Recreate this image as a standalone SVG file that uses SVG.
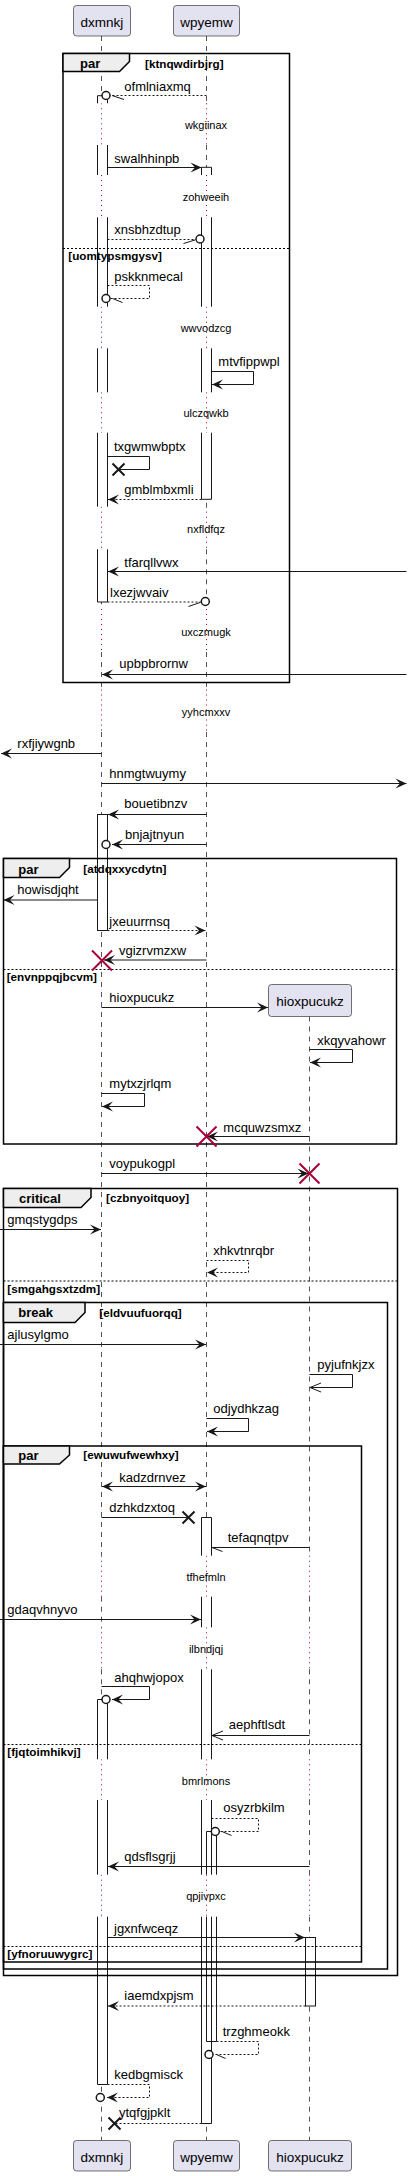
<svg xmlns="http://www.w3.org/2000/svg" width="412" height="2176" viewBox="0 0 412 2176">
<style>
.t{font-family:"Liberation Sans",Arial,sans-serif;font-size:13px;fill:#000}
.d{font-family:"Liberation Sans",Arial,sans-serif;font-size:11px;fill:#000;text-anchor:middle}
.pn{font-family:"Liberation Sans",Arial,sans-serif;font-size:13.5px;fill:#000;text-anchor:middle}
.fl{font-family:"Liberation Sans",Arial,sans-serif;font-size:13px;font-weight:bold;fill:#000}
.g{font-family:"Liberation Sans",Arial,sans-serif;font-size:11.7px;font-weight:bold;fill:#000}
.pb{fill:#E2E2F0;stroke:#181818;stroke-width:0.6}
.ll{fill:none;stroke:#555;stroke-width:1;stroke-dasharray:5,5}
.dl{fill:none;stroke:#A80036;stroke-width:1;stroke-dasharray:1,4}
.fr{fill:none;stroke:#000;stroke-width:1.5}
.tab{fill:#EEEEEE;stroke:#000;stroke-width:1.5}
.sep{fill:none;stroke:#000;stroke-width:1;stroke-dasharray:2,2}
.af{fill:#fff}
.ae{fill:none;stroke:#181818;stroke-width:1}
.m{fill:none;stroke:#181818;stroke-width:1}
.ds{stroke-dasharray:2,2}
.f{marker-end:url(#f)}
.o{marker-end:url(#o)}
.c{fill:#fff;stroke:#181818;stroke-width:1.5}
.x{stroke:#181818;stroke-width:2;fill:none}
.rx{stroke:#A80036;stroke-width:2;fill:none}
</style>
<defs>
<marker id="f" markerUnits="userSpaceOnUse" markerWidth="14" markerHeight="12" viewBox="-12 -6 14 12" refX="0" refY="0" orient="auto-start-reverse"><path d="M0,0 L-11,-5 L-6.5,0 L-11,5 Z" fill="#181818"/></marker>
<marker id="o" markerUnits="userSpaceOnUse" markerWidth="14" markerHeight="12" viewBox="-12 -6 14 12" refX="0" refY="0" orient="auto"><path d="M-11,-4.5 L0,0 L-11,4.5" fill="none" stroke="#181818" stroke-width="1" stroke-dasharray="none"/></marker>
</defs>
<rect width="412" height="2176" fill="#fff"/>

<g id="lifelines">
<path class="ll" d="M101.5,36V103.3M101.5,145V175M101.5,217.3V306.7M101.5,348.3V392.3M101.5,432.7V506.7M101.5,549.3V609M101.5,652V689.5M101.5,732V1555.7M101.5,1596.7V1627.3M101.5,1669.3V1759.3M101.5,1800V1874.7M101.5,1916.7V2140.5"/>
<path class="dl" d="M101.5,103.3V145M101.5,175V217.3M101.5,306.7V348.3M101.5,392.3V432.7M101.5,506.7V549.3M101.5,609V652M101.5,689.5V732M101.5,1555.7V1596.7M101.5,1627.3V1669.3M101.5,1759.3V1800M101.5,1874.7V1916.7"/>
<path class="ll" d="M206.5,36V103.3M206.5,145V175M206.5,217.3V306.7M206.5,348.3V392.3M206.5,432.7V506.7M206.5,549.3V609M206.5,652V689.5M206.5,732V1555.7M206.5,1596.7V1627.3M206.5,1669.3V1759.3M206.5,1800V1874.7M206.5,1916.7V2140.5"/>
<path class="dl" d="M206.5,103.3V145M206.5,175V217.3M206.5,306.7V348.3M206.5,392.3V432.7M206.5,506.7V549.3M206.5,609V652M206.5,689.5V732M206.5,1555.7V1596.7M206.5,1627.3V1669.3M206.5,1759.3V1800M206.5,1874.7V1916.7"/>
<path class="ll" d="M309.5,1016.5V1555.7M309.5,1596.7V1627.3M309.5,1669.3V1759.3M309.5,1800V1874.7M309.5,1916.7V2140.5"/>
<path class="dl" d="M309.5,1555.7V1596.7M309.5,1627.3V1669.3M309.5,1759.3V1800M309.5,1874.7V1916.7"/>
</g>

<g id="participants">
<g id="p-dxmnkj">
<rect class="pb" x="73.5" y="5.5" width="57" height="30.5" rx="3"/>
<text class="pn" x="102" y="26.5">dxmnkj</text>
<rect class="pb" x="73.5" y="2140.5" width="57" height="30.5" rx="3"/>
<text class="pn" x="102" y="2161.5">dxmnkj</text>
</g>
<g id="p-wpyemw">
<rect class="pb" x="173.5" y="5.5" width="66" height="30.5" rx="3"/>
<text class="pn" x="206.5" y="26.5">wpyemw</text>
<rect class="pb" x="173.5" y="2140.5" width="66" height="30.5" rx="3"/>
<text class="pn" x="206.5" y="2161.5">wpyemw</text>
</g>
<g id="p-hioxpucukz">
<rect class="pb" x="268.5" y="984.5" width="83" height="32" rx="3"/>
<text class="pn" x="310" y="1005.5">hioxpucukz</text>
<rect class="pb" x="268.5" y="2140.5" width="83" height="30.5" rx="3"/>
<text class="pn" x="310" y="2161.5">hioxpucukz</text>
</g>
</g>

<g id="activations">
<rect class="af" x="97.5" y="95.7" width="10" height="7.6"/>
<rect class="af" x="97.5" y="145" width="10" height="30"/>
<rect class="af" x="97.5" y="217.3" width="10" height="89.4"/>
<rect class="af" x="97.5" y="348.3" width="10" height="44"/>
<rect class="af" x="97.5" y="432.7" width="10" height="74"/>
<rect class="af" x="97.5" y="549.3" width="10" height="52.7"/>
<rect class="af" x="201.5" y="167.3" width="10" height="7.7"/>
<rect class="af" x="201.5" y="217.3" width="10" height="89.4"/>
<rect class="af" x="201.5" y="348.3" width="10" height="44"/>
<rect class="af" x="201.5" y="432.7" width="10" height="66.6"/>
<rect class="af" x="97.5" y="814.5" width="10" height="116"/>
<rect class="af" x="201.5" y="1517.5" width="10" height="38.2"/>
<rect class="af" x="201.5" y="1596.7" width="10" height="30.6"/>
<rect class="af" x="201.5" y="1669.3" width="10" height="90"/>
<rect class="af" x="201.5" y="1800" width="10" height="74.7"/>
<rect class="af" x="201.5" y="1916.7" width="10" height="206.8"/>
<rect class="af" x="206.5" y="1831.5" width="10" height="43.2"/>
<rect class="af" x="206.5" y="1916.7" width="10" height="124.8"/>
<rect class="af" x="97.5" y="1699.5" width="10" height="59.8"/>
<rect class="af" x="97.5" y="1800" width="10" height="74.7"/>
<rect class="af" x="97.5" y="1916.7" width="10" height="167.8"/>
<rect class="af" x="305.5" y="1937.5" width="10" height="68.5"/>
<path class="ae" d="M97.5,95.7H107.5M97.5,95.7V103.3M107.5,95.7V103.3M97.5,145V175M107.5,145V175M97.5,217.3V306.7M107.5,217.3V306.7M97.5,348.3V392.3M107.5,348.3V392.3M97.5,432.7V506.7M107.5,432.7V506.7M97.5,549.3V602H107.5V549.3"/>
<path class="ae" d="M201.5,167.3H211.5M201.5,167.3V175M211.5,167.3V175M201.5,217.3V306.7M211.5,217.3V306.7M201.5,348.3V392.3M211.5,348.3V392.3M201.5,432.7V499.3H211.5V432.7"/>
<rect class="ae" x="97.5" y="814.5" width="10" height="116"/>
<path class="ae" d="M201.5,1517.5H211.5M201.5,1517.5V1555.7M211.5,1517.5V1555.7M201.5,1596.7V1627.3M211.5,1596.7V1627.3M201.5,1669.3V1759.3M211.5,1669.3V1759.3M201.5,1800V1874.7M211.5,1800V1874.7M201.5,1916.7V2123.5H211.5V1916.7"/>
<path class="ae" d="M206.5,1831.5H216.5M206.5,1831.5V1874.7M216.5,1831.5V1874.7M206.5,1916.7V2041.5H216.5V1916.7"/>
<path class="ae" d="M97.5,1699.5H107.5M97.5,1699.5V1759.3M107.5,1699.5V1759.3M97.5,1800V1874.7M107.5,1800V1874.7M97.5,1916.7V2084.5H107.5V1916.7"/>
<rect class="ae" x="305.5" y="1937.5" width="10" height="68.5"/>
</g>

<g id="frames">
<g id="f-par1">
<rect class="fr" x="63" y="53.5" width="226.5" height="629"/>
<path class="tab" d="M63,53.5H129.5V61.5L119.5,71.5H63Z"/>
<text class="fl" x="80" y="68">par</text>
<text class="g" x="145" y="68">[ktnqwdirbjrg]</text>
<line class="sep" x1="63" y1="248.5" x2="289.5" y2="248.5"/>
<text class="g" x="68.3" y="260">[uomtypsmgysv]</text>
</g>
<g id="f-par2">
<rect class="fr" x="3.5" y="858.5" width="393" height="285.5"/>
<path class="tab" d="M3.5,858.5H69.5V867.5L59.5,877.5H3.5Z"/>
<text class="fl" x="18.3" y="874">par</text>
<text class="g" x="83.3" y="873.3">[atdqxxycdytn]</text>
<line class="sep" x1="3.5" y1="969.5" x2="396.5" y2="969.5"/>
<text class="g" x="6.7" y="980.7">[envnppqjbcvm]</text>
</g>
<g id="f-critical">
<rect class="fr" x="3.5" y="1188.5" width="394" height="787"/>
<path class="tab" d="M3.5,1188.5H91V1197.5L81,1207.5H3.5Z"/>
<text class="fl" x="19" y="1202.7">critical</text>
<text class="g" x="106" y="1201.7">[czbnyoitquoy]</text>
<line class="sep" x1="3.5" y1="1281" x2="397.5" y2="1281"/>
<text class="g" x="7.3" y="1292.7">[smgahgsxtzdm]</text>
</g>
<g id="f-break">
<rect class="fr" x="3.5" y="1302.5" width="384" height="666.5"/>
<path class="tab" d="M3.5,1302.5H85V1312.5L75,1322.5H3.5Z"/>
<text class="fl" x="18.3" y="1317.3">break</text>
<text class="g" x="99.3" y="1316.7">[eldvuufuorqq]</text>
</g>
<g id="f-par3">
<rect class="fr" x="3.5" y="1446" width="358" height="516"/>
<path class="tab" d="M3.5,1446H69.5V1455L59.5,1464H3.5Z"/>
<text class="fl" x="18.3" y="1460">par</text>
<text class="g" x="83.3" y="1459.3">[ewuwufwewhxy]</text>
<line class="sep" x1="3.5" y1="1744.5" x2="361.5" y2="1744.5"/>
<text class="g" x="7.3" y="1755.7">[fjqtoimhikvj]</text>
<line class="sep" x1="3.5" y1="1946.5" x2="361.5" y2="1946.5"/>
<text class="g" x="7.3" y="1957.7">[yfnoruuwygrc]</text>
</g>
</g>

<g id="connectors">
<line class="m ds" x1="206.5" y1="95.5" x2="110" y2="95.5"/>
<line class="m" x1="112" y1="95.5" x2="124" y2="99.5"/>
<circle class="c" cx="106" cy="95.5" r="4"/>
<line class="m f" x1="107.5" y1="167.5" x2="201.5" y2="167.5"/>
<line class="m ds" x1="107.5" y1="239.5" x2="196" y2="239.5"/>
<line class="m" x1="183.5" y1="243.5" x2="195" y2="240"/>
<circle class="c" cx="200" cy="239" r="4"/>
<path class="m ds" d="M107.5,285.5H149.5V298.5H110"/>
<line class="m" x1="112.5" y1="298.5" x2="122.5" y2="302.5"/>
<circle class="c" cx="106" cy="298.5" r="4"/>
<path class="m f" d="M211.5,371.5H253.5V384.5H212"/>
<path class="m" d="M107.5,456.5H149.5V469.5H118.5"/>
<path class="x" d="M112.5,463.5L124.5,475.5M124.5,463.5L112.5,475.5"/>
<line class="m ds f" x1="201.5" y1="499.5" x2="108" y2="499.5"/>
<line class="m f" x1="406.5" y1="571.5" x2="108" y2="571.5"/>
<line class="m ds" x1="107.5" y1="602" x2="201.3" y2="602"/>
<line class="m" x1="188.5" y1="606.5" x2="200" y2="602.5"/>
<circle class="c" cx="205.3" cy="601.5" r="4"/>
<line class="m f" x1="406.5" y1="674.5" x2="102" y2="674.5"/>
<line class="m f" x1="101.5" y1="753.5" x2="1" y2="753.5"/>
<line class="m f" x1="101.5" y1="783.5" x2="406.5" y2="783.5"/>
<line class="m f" x1="206.5" y1="814.5" x2="108" y2="814.5"/>
<line class="m f" x1="206.5" y1="844.5" x2="112" y2="844.5"/>
<circle class="c" cx="106" cy="844.5" r="4"/>
<line class="m f" x1="97.5" y1="900" x2="3.5" y2="900"/>
<line class="m ds f" x1="107.5" y1="930.5" x2="205.5" y2="930.5"/>
<line class="m f" x1="206.5" y1="960" x2="104" y2="960"/>
<path class="rx" d="M92,950.5L112,970.5M112,950.5L92,970.5"/>
<line class="m f" x1="101.5" y1="1007.5" x2="268" y2="1007.5"/>
<path class="m f" d="M309.5,1049.5H352.5V1062.5H310"/>
<path class="m f" d="M101.5,1093.5H144.5V1106.5H102"/>
<line class="m f" x1="309.5" y1="1136.5" x2="207" y2="1136.5"/>
<path class="rx" d="M196.5,1126.5L216.5,1146.5M216.5,1126.5L196.5,1146.5"/>
<line class="m f" x1="101.5" y1="1173.5" x2="308.5" y2="1173.5"/>
<path class="rx" d="M299.5,1163.5L319.5,1183.5M319.5,1163.5L299.5,1183.5"/>
<line class="m f" x1="0" y1="1229.5" x2="101" y2="1229.5"/>
<path class="m ds f" d="M206.5,1260.5H248.5V1272.5H207"/>
<line class="m f" x1="0" y1="1344.5" x2="206" y2="1344.5"/>
<path class="m o" d="M309.5,1374.5H352.5V1387.5H310"/>
<path class="m f" d="M206.5,1418.5H248.5V1431.5H207"/>
<line class="m" x1="102" y1="1486.5" x2="206" y2="1486.5" marker-start="url(#f)" marker-end="url(#f)"/>
<line class="m" x1="101.5" y1="1517.5" x2="188.5" y2="1517.5"/>
<path class="x" d="M182.5,1511.5L194.5,1523.5M194.5,1511.5L182.5,1523.5"/>
<line class="m" x1="309.5" y1="1547.5" x2="211.5" y2="1547.5"/>
<line class="m" x1="212" y1="1547.5" x2="222.5" y2="1551.5"/>
<line class="m f" x1="0" y1="1619.5" x2="201" y2="1619.5"/>
<path class="m f" d="M101.5,1686.5H149.5V1699.5H112"/>
<circle class="c" cx="106" cy="1699.5" r="4"/>
<line class="m o" x1="309.5" y1="1735.5" x2="212" y2="1735.5"/>
<path class="m ds" d="M211.5,1818.5H258.5V1831.5H219.3"/>
<line class="m" x1="222" y1="1831.5" x2="231.5" y2="1835.5"/>
<circle class="c" cx="215.3" cy="1831.5" r="4"/>
<line class="m f" x1="309.5" y1="1866.5" x2="108" y2="1866.5"/>
<line class="m f" x1="107.5" y1="1937.5" x2="305" y2="1937.5"/>
<line class="m ds f" x1="305.5" y1="2006" x2="108" y2="2006"/>
<path class="m ds" d="M216.5,2041.5H258.5V2054.5H213"/>
<line class="m" x1="216.5" y1="2054.5" x2="225.5" y2="2058.5"/>
<circle class="c" cx="209" cy="2054.5" r="4"/>
<path class="m ds f" d="M107.5,2084.5H149.5V2097.5H107"/>
<circle class="c" cx="100.3" cy="2097.5" r="4"/>
<line class="m ds" x1="201.5" y1="2123.5" x2="114.5" y2="2123.5"/>
<path class="x" d="M108.5,2117.5L120.5,2129.5M120.5,2117.5L108.5,2129.5"/>
</g>

<g id="labels">
<text class="t" x="124.3" y="91">ofmlniaxmq</text>
<text class="d" x="206" y="129">wkgiinax</text>
<text class="t" x="114.3" y="162.7">swalhhinpb</text>
<text class="d" x="206" y="200.5">zohweeih</text>
<text class="t" x="114.3" y="234.3">xnsbhzdtup</text>
<text class="t" x="114.3" y="280.7">pskknmecal</text>
<text class="d" x="206" y="332">wwvodzcg</text>
<text class="t" x="218.3" y="366">mtvfippwpl</text>
<text class="d" x="206" y="417">ulczqwkb</text>
<text class="t" x="114" y="450.7">txgwmwbptx</text>
<text class="t" x="124.3" y="494.3">gmblmbxmli</text>
<text class="d" x="206" y="533">nxfldfqz</text>
<text class="t" x="124.3" y="566.7">tfarqllvwx</text>
<text class="t" x="110" y="596.7">lxezjwvaiv</text>
<text class="d" x="206" y="635.5">uxczmugk</text>
<text class="t" x="119.3" y="668.3">upbpbrornw</text>
<text class="d" x="206" y="715.5">yyhcmxxv</text>
<text class="t" x="17.3" y="748.3">rxfjiywgnb</text>
<text class="t" x="109.3" y="778.3">hnmgtwuymy</text>
<text class="t" x="124.3" y="808.3">bouetibnzv</text>
<text class="t" x="125" y="839">bnjajtnyun</text>
<text class="t" x="17.3" y="894">howisdjqht</text>
<text class="t" x="109.3" y="925.7">jxeuurrnsq</text>
<text class="t" x="119" y="955">vgizrvmzxw</text>
<text class="t" x="109.3" y="1001.7">hioxpucukz</text>
<text class="t" x="317.3" y="1045">xkqyvahowr</text>
<text class="t" x="109.3" y="1088.3">mytxzjrlqm</text>
<text class="t" x="223.3" y="1131.7">mcquwzsmxz</text>
<text class="t" x="109.3" y="1168.3">voypukogpl</text>
<text class="t" x="7.3" y="1224.3">gmqstygdps</text>
<text class="t" x="213.3" y="1255">xhkvtnrqbr</text>
<text class="t" x="7.3" y="1339.3">ajlusylgmo</text>
<text class="t" x="317.3" y="1369.3">pyjufnkjzx</text>
<text class="t" x="213.3" y="1413.3">odjydhkzag</text>
<text class="t" x="119.3" y="1481.7">kadzdrnvez</text>
<text class="t" x="109.3" y="1511.7">dzhkdzxtoq</text>
<text class="t" x="227.7" y="1542.3">tefaqnqtpv</text>
<text class="d" x="206" y="1580.5">tfhefmln</text>
<text class="t" x="7.3" y="1614">gdaqvhnyvo</text>
<text class="d" x="206" y="1653">ilbndjqj</text>
<text class="t" x="114.3" y="1681.7">ahqhwjopox</text>
<text class="t" x="228.7" y="1729.3">aephftlsdt</text>
<text class="d" x="206" y="1784.5">bmrlmons</text>
<text class="t" x="223.3" y="1811.7">osyzrbkilm</text>
<text class="t" x="124.3" y="1860.7">qdsflsgrjj</text>
<text class="d" x="206" y="1899.5">qpjivpxc</text>
<text class="t" x="114" y="1932.7">jgxnfwceqz</text>
<text class="t" x="124.3" y="2000">iaemdxpjsm</text>
<text class="t" x="222.7" y="2036">trzghmeokk</text>
<text class="t" x="114.3" y="2079">kedbgmisck</text>
<text class="t" x="119" y="2117.3">ytqfgjpklt</text>
</g>
</svg>
